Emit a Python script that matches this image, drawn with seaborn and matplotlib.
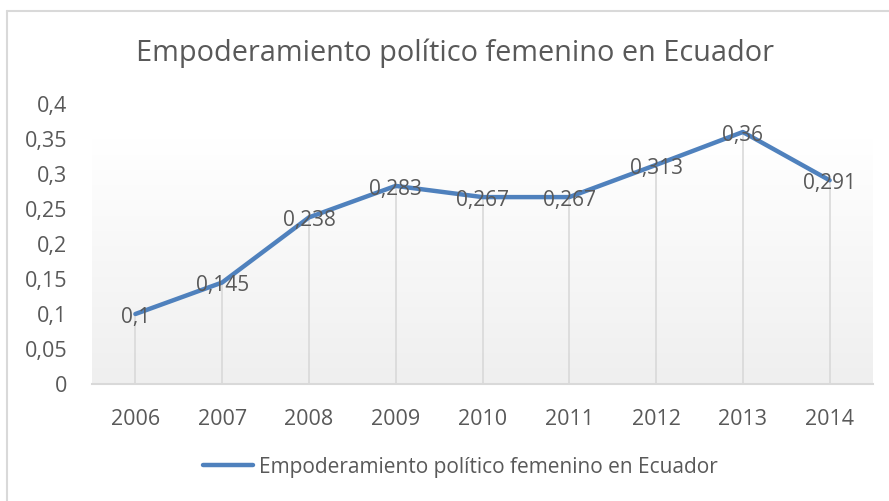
import numpy as np
import pandas as pd
import matplotlib
matplotlib.use("Agg")
import matplotlib.pyplot as plt
import seaborn as sns
from matplotlib.lines import Line2D

years = [2006, 2007, 2008, 2009, 2010, 2011, 2012, 2013, 2014]
values = [0.1, 0.145, 0.238, 0.283, 0.267, 0.267, 0.313, 0.36, 0.291]
value_labels = ["0,1", "0,145", "0,238", "0,283", "0,267", "0,267", "0,313", "0,36", "0,291"]
y_ticks = [0, 0.05, 0.1, 0.15, 0.2, 0.25, 0.3, 0.35, 0.4]
y_tick_labels = ["0", "0,05", "0,1", "0,15", "0,2", "0,25", "0,3", "0,35", "0,4"]
title = "Empoderamiento político femenino en Ecuador"
series_name = "Empoderamiento político femenino en Ecuador"

sns.set_theme(style="white")
plt.rcParams['font.family'] = ['Open Sans', 'DejaVu Sans']

TXT = "#595959"
LINE = "#4F81BD"
GRID = "#D9D9D9"

df = pd.DataFrame({"year": years, "value": values})

fig = plt.figure(figsize=(8.89, 5.01), dpi=100)
ax = fig.add_axes([92/889, (501-384)/501, 781/889, 280/501])

# gradient background
grad = np.linspace(1.0, 0.0, 256).reshape(-1, 1)
top_c = np.array([1.0, 1.0, 1.0])
bot_c = np.array([0xEF, 0xEF, 0xEF]) / 255
img = top_c * grad[..., None] + bot_c * (1 - grad[..., None])
img = img.reshape(256, 1, 3)
ax.imshow(img, extent=[2005.5, 2014.5, 0, 0.35], aspect='auto', zorder=0, origin='upper')

ax.vlines(df["year"], 0, df["value"], color=GRID, lw=1.2, zorder=1)
sns.lineplot(data=df, x="year", y="value", ax=ax, color=LINE, lw=3.2, zorder=3,
             legend=False, solid_capstyle='round')

for x, y, lab in zip(years, values, value_labels):
    ax.annotate(lab, (x, y), xytext=(0, -2.5), textcoords='offset points',
                ha='center', va='center', fontsize=15, color=TXT, zorder=4)

ax.set_xlim(2005.5, 2014.5)
ax.set_ylim(0, 0.4)
ax.set_xticks(years)
ax.set_xticklabels([str(y) for y in years])
ax.set_yticks(y_ticks)
ax.set_yticklabels(y_tick_labels)
ax.tick_params(axis='both', length=0, labelsize=15.5, labelcolor=TXT)
ax.tick_params(axis='y', pad=18)
ax.tick_params(axis='x', pad=18)
ax.set_xlabel("")
ax.set_ylabel("")
for s in ["top", "right", "left"]:
    ax.spines[s].set_visible(False)
ax.spines["bottom"].set_color(GRID)
ax.spines["bottom"].set_linewidth(1.5)
ax.set_facecolor("none")

fig.text(455/889, 1 - 53/501, title, ha='center', va='center', fontsize=20.8, color=TXT)

handle = Line2D([0], [0], color=LINE, lw=3.2, solid_capstyle='round')
leg = fig.legend([handle], [series_name], loc='center', bbox_to_anchor=(460/889, 1 - 467/501),
                 frameon=False, fontsize=15, handlelength=2.4, handletextpad=0.3,
                 labelcolor=TXT)

# chart border
fig.add_artist(Line2D([7/889, 7/889], [0, 1 - 11/501], color="#D9D9D9", lw=1.5))
fig.add_artist(Line2D([7/889, 1], [1 - 11/501, 1 - 11/501], color="#D9D9D9", lw=1.5))

fig.savefig("out.png", dpi=100)
